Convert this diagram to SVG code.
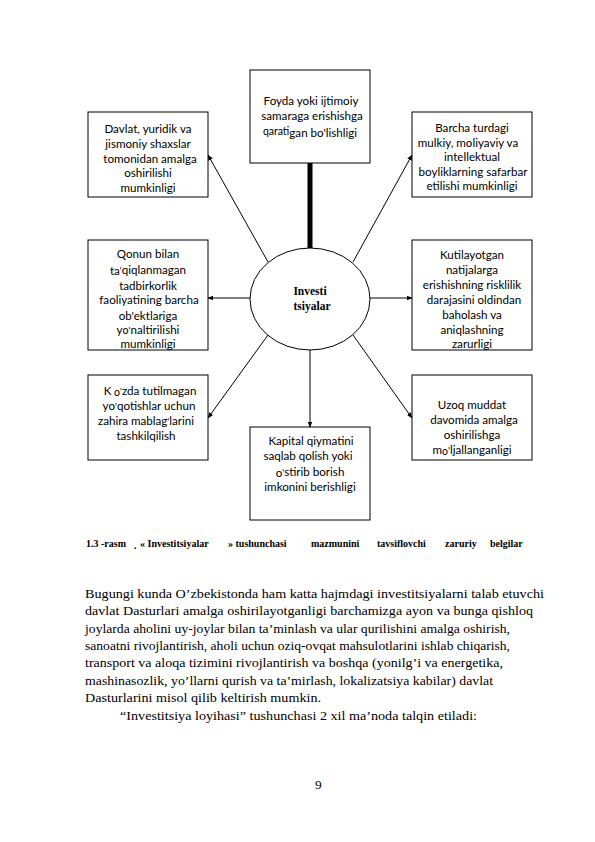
<svg xmlns="http://www.w3.org/2000/svg" width="595" height="842" viewBox="0 0 595 842">
<defs>
<marker id="ah" viewBox="0 0 10 10" refX="9" refY="5" markerWidth="6" markerHeight="6" orient="auto-start-reverse"><path d="M0,1 L10,5 L0,9 z" fill="#000"/></marker>
<style>
.box{fill:#fff;stroke:#000;stroke-width:1}
.bt{font-family:Lato,"Liberation Sans",sans-serif;font-size:11.6px;fill:#000;text-anchor:middle}
.ln{stroke:#000;stroke-width:1;fill:none;marker-end:url(#ah)}
.cap{font-family:"Liberation Serif",serif;font-size:10px;font-weight:bold;fill:#000}
.body{font-family:"Liberation Serif",serif;font-size:13.3px;fill:#000}
</style>
</defs>
<rect width="595" height="842" fill="#fff"/>
<g id="connectors">
<rect x="307.5" y="163" width="5" height="86" fill="#000"/>
<line class="ln" x1="268" y1="262" x2="208" y2="155"/>
<line class="ln" x1="353" y1="262" x2="412" y2="155"/>
<line class="ln" x1="250" y1="298" x2="208" y2="298"/>
<line class="ln" x1="370" y1="298" x2="412" y2="298"/>
<line class="ln" x1="268" y1="335" x2="208" y2="418"/>
<line class="ln" x1="353" y1="335" x2="412" y2="418"/>
<line class="ln" x1="310" y1="350" x2="310" y2="427" stroke="#555"/>
</g>
<g id="center">
<ellipse cx="310" cy="299" rx="60" ry="51" fill="#fff" stroke="#000"/>
<text x="310" y="295" font-family="Liberation Serif,serif" font-size="11.5px" font-weight="bold" text-anchor="middle">Investi</text>
<text x="312" y="310" font-family="Liberation Serif,serif" font-size="11.5px" font-weight="bold" text-anchor="middle">tsiyalar</text>
</g>
<g id="n-top">
<rect class="box" x="250" y="70" width="120" height="93"/>
<text class="bt" x="311" y="105">Foyda yoki ijtimoiy</text>
<text class="bt" x="312" y="120">samaraga erishishga</text>
<text class="bt" x="310" y="137"><tspan font-size="10.5px" dy="-2">qarati</tspan><tspan dy="2">gan bo'lishligi</tspan></text>
</g>
<g id="n-tl">
<rect class="box" x="88" y="112" width="120" height="85"/>
<text class="bt" x="148" y="133">Davlat, yuridik va</text>
<text class="bt" x="148" y="148">jismoniy shaxslar</text>
<text class="bt" x="150" y="163">tomonidan amalga</text>
<text class="bt" x="148" y="177">oshirilishi</text>
<text class="bt" x="148" y="192">mumkinligi</text>
</g>
<g id="n-tr">
<rect class="box" x="412" y="112" width="120" height="85"/>
<text class="bt" x="472" y="132">Barcha turdagi</text>
<text class="bt" x="468" y="147">mulkiy, moliyaviy va</text>
<text class="bt" x="472" y="161">intellektual</text>
<text class="bt" x="473" y="176">boyliklarning safarbar</text>
<text class="bt" x="472" y="190">etilishi mumkinligi</text>
</g>
<g id="n-ml">
<rect class="box" x="88" y="240" width="120" height="110"/>
<text class="bt" x="148" y="258">Qonun bilan</text>
<text class="bt" x="148" y="274"><tspan dy="1">ta</tspan><tspan font-size="9.5px" dy="-1">'</tspan><tspan>qiqlanmagan</tspan></text>
<text class="bt" x="148" y="290">tadbirkorlik</text>
<text class="bt" x="149" y="304">faoliyatining barcha</text>
<text class="bt" x="148" y="320">ob'ektlariga</text>
<text class="bt" x="148" y="334"><tspan>y</tspan><tspan font-size="10.5px">o</tspan><tspan font-size="9.5px">'</tspan><tspan>naltirilishi</tspan></text>
<text class="bt" x="148" y="348">mumkinligi</text>
</g>
<g id="n-mr">
<rect class="box" x="412" y="240" width="120" height="110"/>
<text class="bt" x="472" y="259">Kutilayotgan</text>
<text class="bt" x="472" y="274">natijalarga</text>
<text class="bt" x="472" y="289">erishishning risklilik</text>
<text class="bt" x="474" y="304">darajasini oldindan</text>
<text class="bt" x="472" y="319">baholash va</text>
<text class="bt" x="472" y="334">aniqlashning</text>
<text class="bt" x="472" y="348">zarurligi</text>
</g>
<g id="n-bl">
<rect class="box" x="88" y="375" width="120" height="85"/>
<text class="bt" x="150" y="395"><tspan>K</tspan><tspan dy="1" font-size="10.5px"> o</tspan><tspan dy="-1" font-size="9.5px">'</tspan><tspan>zda tutilmagan</tspan></text>
<text class="bt" x="149" y="410"><tspan>y</tspan><tspan>o</tspan><tspan font-size="9.5px">'</tspan><tspan>qotishlar uchun</tspan></text>
<text class="bt" x="146" y="425"><tspan>zahira mablag</tspan><tspan font-size="9.5px">'</tspan><tspan>larini</tspan></text>
<text class="bt" x="146" y="440">tashkilqilish</text>
</g>
<g id="n-br">
<rect class="box" x="412" y="375" width="120" height="85"/>
<text class="bt" x="472" y="409">Uzoq muddat</text>
<text class="bt" x="474" y="424">davomida amalga</text>
<text class="bt" x="472" y="439">oshirilishga</text>
<text class="bt" x="472" y="454"><tspan>m</tspan><tspan dy="1" font-size="10.5px">o</tspan><tspan dy="-1" font-size="9.5px">'</tspan><tspan>ljallanganligi</tspan></text>
</g>
<g id="n-bottom">
<rect class="box" x="250" y="427" width="120" height="93"/>
<text class="bt" x="311" y="445">Kapital qiymatini</text>
<text class="bt" x="308" y="460">saqlab qolish yoki</text>
<text class="bt" x="310" y="476"><tspan dy="1">o</tspan><tspan dy="-1" font-size="9.5px">'</tspan><tspan>stirib borish</tspan></text>
<text class="bt" x="310" y="491">imkonini berishligi</text>
</g>
<g id="caption">
<text class="cap" x="86" y="547">1.3 -rasm</text>
<text class="cap" x="134" y="549">.</text>
<text class="cap" x="140" y="547">« Investitsiyalar</text>
<text class="cap" x="228" y="547">» tushunchasi</text>
<text class="cap" x="311" y="547">mazmunini</text>
<text class="cap" x="377" y="547">tavsiflovchi</text>
<text class="cap" x="445" y="547">zaruriy</text>
<text class="cap" x="490" y="547">belgilar</text>
</g>
<g id="body">
<text class="body" x="85" y="598" textLength="459" lengthAdjust="spacingAndGlyphs">Bugungi kunda O’zbekistonda ham katta hajmdagi investitsiyalarni talab etuvchi</text>
<text class="body" x="85" y="615" textLength="448" lengthAdjust="spacingAndGlyphs">davlat Dasturlari amalga oshirilayotganligi barchamizga ayon va bunga qishloq</text>
<text class="body" x="85" y="633" textLength="425" lengthAdjust="spacingAndGlyphs">joylarda aholini uy-joylar bilan ta’minlash va ular qurilishini amalga oshirish,</text>
<text class="body" x="85" y="650" textLength="425" lengthAdjust="spacingAndGlyphs">sanoatni rivojlantirish, aholi uchun oziq-ovqat mahsulotlarini ishlab chiqarish,</text>
<text class="body" x="85" y="667" textLength="418" lengthAdjust="spacingAndGlyphs">transport va aloqa tizimini rivojlantirish va boshqa (yonilg’i va energetika,</text>
<text class="body" x="85" y="685" textLength="408" lengthAdjust="spacingAndGlyphs">mashinasozlik, yo’llarni qurish va ta’mirlash, lokalizatsiya kabilar) davlat</text>
<text class="body" x="85" y="702" textLength="236" lengthAdjust="spacingAndGlyphs">Dasturlarini misol qilib keltirish mumkin.</text>
<text class="body" x="120" y="720" textLength="357" lengthAdjust="spacingAndGlyphs">“Investitsiya loyihasi” tushunchasi 2 xil ma’noda talqin etiladi:</text>
<text class="body" x="315" y="789" font-size="9px">9</text>
</g>
</svg>
